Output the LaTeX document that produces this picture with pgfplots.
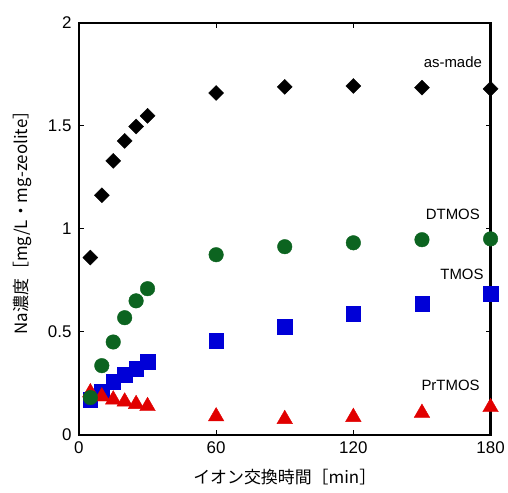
\documentclass[border=0pt]{standalone}
\usepackage{pgfplots}
\pgfplotsset{compat=1.18}
\usepackage{fontspec}
\setmainfont{Liberation Sans}
\newfontfamily\cjk{Noto Sans CJK JP}
\definecolor{mgreen}{RGB}{12,100,32}
\definecolor{mblue}{RGB}{0,0,215}
\definecolor{mred}{RGB}{225,0,0}
\begin{document}
\begin{tikzpicture}
\begin{axis}[
  scale only axis,
  width=412bp, height=412bp,
  xmin=0, xmax=180, ymin=0, ymax=2,
  xtick={0,60,120,180},
  ytick={0,0.5,1,1.5,2},
  yticklabels={0,0.5,1,1.5,2},
  tick align=inside,
  major tick length=5bp,
  tick style={black, line width=0.8bp},
  axis line style={line width=2.2bp},
  tick label style={font=\fontsize{17}{19}\selectfont},
  /pgf/number format/assume math mode=true,
  xticklabel style={yshift=-4bp},
  yticklabel style={xshift=-4bp},
  xlabel={\cjk\fontsize{17}{19}\selectfont イオン交換時間［min］},
  ylabel={\cjk\fontsize{17}{19}\selectfont Na濃度［mg/L・mg-zeolite］},
  xlabel style={at={([yshift=-42bp]rel axis cs:0.5,0)}, anchor=center},
  ylabel style={at={([xshift=-57bp]rel axis cs:0,0.525)}, anchor=center},
  clip=false,
]
\addplot[only marks, mark=square*, mark size=5.3bp, mark options={rotate=45, fill=black, draw=black}] coordinates {
(5,0.86) (10,1.163) (15,1.33) (20,1.427) (25,1.497) (30,1.549) (60,1.66) (90,1.69) (120,1.694) (150,1.686) (180,1.68)};
\addplot[only marks, mark=square*, mark size=7.2bp, mark options={fill=mblue, draw=mblue}] coordinates {
(5,0.17) (10,0.21) (15,0.257) (20,0.291) (25,0.32) (30,0.354) (60,0.456) (90,0.524) (120,0.587) (150,0.636) (180,0.684)};
\addplot[only marks, mark=triangle*, mark size=9bp, mark options={fill=mred, draw=mred}] coordinates {
(5,0.205) (10,0.185) (15,0.17) (20,0.16) (25,0.148) (30,0.138) (60,0.088) (90,0.075) (120,0.085) (150,0.105) (180,0.133)};
\addplot[only marks, mark=*, mark size=7.3bp, mark options={fill=mgreen, draw=mgreen}] coordinates {
(5,0.18) (10,0.335) (15,0.45) (20,0.568) (25,0.65) (30,0.709) (60,0.874) (90,0.913) (120,0.932) (150,0.947) (180,0.951)};
\node[anchor=base, font=\fontsize{15}{17}\selectfont] at (axis cs:163.5,1.783) {as-made};
\node[anchor=base, font=\fontsize{15}{17}\selectfont] at (axis cs:163.5,1.046) {DTMOS};
\node[anchor=base, font=\fontsize{15}{17}\selectfont] at (axis cs:167.5,0.754) {TMOS};
\node[anchor=base, font=\fontsize{15}{17}\selectfont] at (axis cs:162.5,0.214) {PrTMOS};
\path (rel axis cs:0,0) -- ++(-79bp,-58bp);
\path (rel axis cs:1,1) -- ++(17bp,23bp);
\end{axis}
\end{tikzpicture}
\end{document}
